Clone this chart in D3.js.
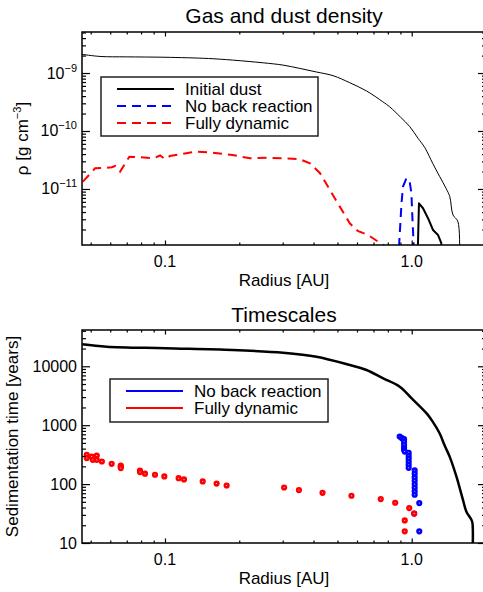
<!DOCTYPE html>
<html>
<head>
<meta charset="utf-8">
<script src="https://cdn.jsdelivr.net/npm/d3@7"></script>
<style>
    body { margin: 0; background: #fff; }
    svg { display: block; font-family: "Liberation Sans", Helvetica, Arial, sans-serif; }
</style>
</head>
<body>
<div id="chart"></div>
<script>
// x axis (shared)
const radiusDomain = [0.0461, 2.0];
const xTicks = [0.1, 1.0];
const xTickLabels = ['0.1', '1.0'];

// top panel: density
const rhoDomain = [1.08e-12, 5.1e-9];
const rhoTicks = [1e-9, 1e-10, 1e-11];
const rhoTickExp = ['\u22129', '\u221210', '\u221211'];

const gasR = [0.0461, 0.0546, 0.07, 0.1, 0.15, 0.188, 0.25, 0.301, 0.352, 0.412, 0.48, 0.561, 0.656, 0.763, 0.815, 0.9, 0.982, 1.06, 1.129, 1.216, 1.297, 1.38, 1.426, 1.47, 1.539, 1.539];
const gasRho = [2.1e-9, 1.93e-9, 1.9e-9, 1.87e-9, 1.78e-9, 1.67e-9, 1.5e-9, 1.37e-9, 1.2e-9, 1.04e-9, 9.0e-10, 6.8e-10, 4.9e-10, 3.2e-10, 2.6e-10, 1.74e-10, 1.19e-10, 7.5e-11, 5.2e-11, 2.77e-11, 1.65e-11, 1.01e-11, 7.4e-12, 3.56e-12, 2.73e-12, 1e-13];

const dustR = [1.045, 1.07, 1.111, 1.164, 1.22, 1.278, 1.318, 1.33];
const dustRho = [1e-13, 5.66e-12, 4.65e-12, 3.13e-12, 1.96e-12, 1.61e-12, 1.16e-12, 1e-13];

const noBackR = [0.888, 0.909, 0.922, 0.952, 0.981, 0.997, 1.006, 1.019];
const noBackRho = [1.0e-12, 5.66e-12, 1.1e-11, 1.53e-11, 1.34e-11, 8.4e-12, 3.3e-12, 1.0e-12];

const fullR = [0.0465, 0.0521, 0.0581, 0.0608, 0.0628, 0.0658, 0.0717, 0.0792, 0.0897, 0.0955, 0.1, 0.1047, 0.115, 0.134, 0.156, 0.188, 0.221, 0.259, 0.301, 0.352, 0.387, 0.425, 0.466, 0.511, 0.561, 0.604, 0.665, 0.766, 0.8];
const fullRho = [1.34e-11, 2.27e-11, 2.33e-11, 2.37e-11, 2.49e-11, 1.99e-11, 3.6e-11, 3.52e-11, 3.38e-11, 3.78e-11, 3.29e-11, 3.7e-11, 3.96e-11, 4.4e-11, 4.24e-11, 3.85e-11, 3.38e-11, 3.46e-11, 3.38e-11, 3.25e-11, 2.77e-11, 1.87e-11, 9.6e-12, 4.96e-12, 2.56e-12, 1.89e-12, 1.61e-12, 1.08e-12, 9e-13];

// bottom panel: timescales
const timeDomain = [10, 41300];
const timeTicks = [10, 100, 1000, 10000];
const timeTickLabels = ['10', '100', '1000', '10000'];

const timeR = [0.0462, 0.0581, 0.1, 0.188, 0.301, 0.411, 0.561, 0.656, 0.763, 0.894, 1.0, 1.147, 1.216, 1.297, 1.36, 1.426, 1.517, 1.613, 1.666, 1.745, 1.762, 1.762];
const timeYears = [23600, 21500, 20200, 18900, 17000, 14550, 10500, 8650, 6270, 4510, 2850, 1600, 1150, 730, 450, 290, 135, 54, 34, 24.8, 22, 5];

const blueR = [0.894, 0.913, 0.931, 0.931, 0.931, 0.931, 0.931, 0.937, 0.972, 0.972, 0.972, 0.972, 0.972, 0.972, 1.028, 1.028, 1.028, 1.028, 1.028, 1.028, 1.028, 1.028, 1.073, 1.023, 1.073];
const blueT = [641, 603, 579, 521, 464, 412, 382, 357, 339, 301, 268, 239, 212, 189, 171, 150, 130, 114, 99.3, 86.5, 75.5, 65.9, 47.6, 31.6, 15.8];

const redR = [0.0482, 0.0482, 0.0505, 0.0510, 0.0529, 0.0529, 0.0555, 0.0608, 0.0662, 0.0662, 0.0662, 0.0792, 0.0792, 0.083, 0.0911, 0.0994, 0.1136, 0.1194, 0.1422, 0.1619, 0.1778, 0.304, 0.349, 0.435, 0.570, 0.749, 0.857, 0.977, 1.023, 0.937, 0.937];
const redT = [314, 276, 294, 258, 305, 258, 242, 221, 207, 197, 187, 170, 160, 150, 144, 135, 126, 120, 111, 102, 94.6, 87.5, 79, 71.2, 63.4, 55.7, 48.2, 39.2, 31.6, 24.2, 15.8];

const W = 483, H = 592;
const L = 82, R = 486;

const svg = d3.select('#chart').append('svg')
    .attr('width', W)
    .attr('height', H);

const zip = (a, b) => a.map((v, i) => [v, b[i]]);

// minor ticks 2..9 per decade inside the domain
const minorTicks = (domain) => {
    const out = [];
    for (let e = Math.floor(Math.log10(domain[0])); e <= Math.ceil(Math.log10(domain[1])); e++) {
        for (let m = 2; m < 10; m++) {
            const v = m * Math.pow(10, e);
            if (v >= domain[0] && v <= domain[1]) out.push(v);
        }
    }
    return out;
};

const drawFrame = (g, x, y, top, bottom, yMajor) => {
    const tickAxis = (axis, transform) => {
        const a = g.append('g')
            .attr('transform', transform)
            .call(axis);
        a.select('.domain').remove();
        a.selectAll('line').attr('stroke', '#000').attr('stroke-width', 1.2);
    };
    const xMinor = minorTicks(x.domain());
    const yMinor = minorTicks(y.domain());
    tickAxis(d3.axisBottom(x).tickValues(xTicks).tickSize(-4.5).tickFormat(''), 'translate(0,' + bottom + ')');
    tickAxis(d3.axisBottom(x).tickValues(xMinor).tickSize(-2.5).tickFormat(''), 'translate(0,' + bottom + ')');
    tickAxis(d3.axisTop(x).tickValues(xTicks).tickSize(-4.5).tickFormat(''), 'translate(0,' + top + ')');
    tickAxis(d3.axisTop(x).tickValues(xMinor).tickSize(-2.5).tickFormat(''), 'translate(0,' + top + ')');
    tickAxis(d3.axisLeft(y).tickValues(yMajor).tickSize(-8).tickFormat(''), 'translate(' + L + ',0)');
    tickAxis(d3.axisLeft(y).tickValues(yMinor).tickSize(-4).tickFormat(''), 'translate(' + L + ',0)');
    tickAxis(d3.axisRight(y).tickValues(yMajor).tickSize(-8).tickFormat(''), 'translate(' + R + ',0)');
    tickAxis(d3.axisRight(y).tickValues(yMinor).tickSize(-4).tickFormat(''), 'translate(' + R + ',0)');

    g.append('rect')
        .attr('x', L).attr('y', top)
        .attr('width', R - L).attr('height', bottom - top)
        .attr('fill', 'none')
        .attr('stroke', '#000')
        .attr('stroke-width', 1.5);

    g.selectAll('.xlab')
        .data(xTicks)
        .enter()
        .append('text')
        .attr('x', d => x(d))
        .attr('y', bottom + 22)
        .attr('text-anchor', 'middle')
        .attr('font-size', 16)
        .text((d, i) => xTickLabels[i]);

    g.append('text')
        .attr('x', (L + R) / 2)
        .attr('y', bottom + 41)
        .attr('text-anchor', 'middle')
        .attr('font-size', 17)
        .text('Radius [AU]');
};

const addClip = (id, top, bottom) => {
    svg.append('clipPath').attr('id', id)
        .append('rect')
        .attr('x', L).attr('y', top)
        .attr('width', R - L).attr('height', bottom - top);
};

// box: x, y, w, h, first row offset, row step, line inset
const legend = (g, box, rows) => {
    g.append('rect')
        .attr('x', box[0]).attr('y', box[1])
        .attr('width', box[2]).attr('height', box[3])
        .attr('fill', '#fff')
        .attr('stroke', '#222')
        .attr('stroke-width', 1.5);
    rows.forEach((r, i) => {
        const cy = box[1] + box[4] + i * box[5];
        g.append('line')
            .attr('x1', box[0] + box[6]).attr('x2', box[0] + box[6] + 57)
            .attr('y1', cy).attr('y2', cy)
            .attr('stroke', r.color)
            .attr('stroke-width', 2)
            .attr('stroke-dasharray', r.dash || null);
        g.append('text')
            .attr('x', box[0] + box[6] + 68)
            .attr('y', cy + 6)
            .attr('font-size', 17)
            .text(r.label);
    });
};

// ---------------- top panel ----------------
(() => {
    const top = 32, bottom = 245;
    const x = d3.scaleLog().domain(radiusDomain).range([L, R]);
    const y = d3.scaleLog().domain(rhoDomain).range([bottom, top]);
    const g = svg.append('g');
    addClip('clip-top', top, bottom);

    g.append('text')
        .attr('x', (L + R) / 2)
        .attr('y', 23)
        .attr('text-anchor', 'middle')
        .attr('font-size', 21)
        .text('Gas and dust density');

    const line = d3.line().x(d => x(d[0])).y(d => y(d[1]));
    const plot = g.append('g').attr('clip-path', 'url(#clip-top)');

    plot.append('path')
        .datum(zip(gasR, gasRho))
        .attr('fill', 'none')
        .attr('stroke', '#000')
        .attr('stroke-width', 1)
        .attr('d', line.curve(d3.curveCatmullRom.alpha(0.5)));
    line.curve(d3.curveLinear);

    plot.append('path')
        .datum(zip(dustR, dustRho))
        .attr('fill', 'none')
        .attr('stroke', '#000')
        .attr('stroke-width', 2)
        .attr('stroke-linejoin', 'round')
        .attr('d', line);

    plot.append('path')
        .datum(zip(noBackR, noBackRho))
        .attr('fill', 'none')
        .attr('stroke', '#0000ff')
        .attr('stroke-width', 2)
        .attr('stroke-dasharray', '9,6')
        .attr('d', line);

    plot.append('path')
        .datum(zip(fullR, fullRho))
        .attr('fill', 'none')
        .attr('stroke', '#ff0000')
        .attr('stroke-width', 2)
        .attr('stroke-dasharray', '9,6')
        .attr('d', line);

    drawFrame(g, x, y, top, bottom, rhoTicks);

    const lab = g.selectAll('.ylab')
        .data(rhoTicks)
        .enter()
        .append('text')
        .attr('x', L - 5)
        .attr('y', d => y(d) + 5.5)
        .attr('text-anchor', 'end')
        .attr('font-size', 16);
    lab.append('tspan').text('10');
    lab.append('tspan')
        .attr('dy', -7)
        .attr('font-size', 11)
        .text((d, i) => rhoTickExp[i]);

    const yt = g.append('text')
        .attr('transform', 'translate(28,' + (top + bottom) / 2 + ') rotate(-90)')
        .attr('text-anchor', 'middle')
        .attr('font-size', 17);
    yt.append('tspan').text('\u03c1 [g cm');
    yt.append('tspan').attr('dy', -7).attr('font-size', 11).text('\u22123');
    yt.append('tspan').attr('dy', 7).text(']');

    legend(g, [101, 77, 217, 59, 12, 17, 16], [
        {label: 'Initial dust', color: '#000'},
        {label: 'No back reaction', color: '#0000ff', dash: '9,6'},
        {label: 'Fully dynamic', color: '#ff0000', dash: '9,6'}
    ]);
})();

// ---------------- bottom panel ----------------
(() => {
    const top = 330, bottom = 543;
    const x = d3.scaleLog().domain(radiusDomain).range([L, R]);
    const y = d3.scaleLog().domain(timeDomain).range([bottom, top]);
    const g = svg.append('g');
    addClip('clip-bot', top, bottom);

    g.append('text')
        .attr('x', (L + R) / 2)
        .attr('y', 322)
        .attr('text-anchor', 'middle')
        .attr('font-size', 21)
        .text('Timescales');

    const plot = g.append('g').attr('clip-path', 'url(#clip-bot)');

    plot.append('path')
        .datum(zip(timeR, timeYears))
        .attr('fill', 'none')
        .attr('stroke', '#000')
        .attr('stroke-width', 2.5)
        .attr('d', d3.line().curve(d3.curveCatmullRom.alpha(0.5)).x(d => x(d[0])).y(d => y(d[1])));

    const dots = (rs, ts, color) => {
        plot.selectAll(null)
            .data(zip(rs, ts))
            .enter()
            .append('circle')
            .attr('cx', d => x(d[0]))
            .attr('cy', d => y(d[1]))
            .attr('r', 1.8)
            .attr('fill', '#fff')
            .attr('stroke', color)
            .attr('stroke-width', 2.6);
    };
    dots(blueR, blueT, '#0000ff');
    dots(redR, redT, '#ff0000');

    drawFrame(g, x, y, top, bottom, timeTicks);

    g.selectAll('.ylab')
        .data(timeTicks)
        .enter()
        .append('text')
        .attr('x', L - 5)
        .attr('y', d => y(d) + 5.5)
        .attr('text-anchor', 'end')
        .attr('font-size', 16)
        .text((d, i) => timeTickLabels[i]);

    g.append('text')
        .attr('transform', 'translate(17.5,' + (top + bottom) / 2 + ') rotate(-90)')
        .attr('text-anchor', 'middle')
        .attr('font-size', 17)
        .text('Sedimentation time [years]');

    legend(g, [110, 379, 218, 43, 12, 17, 16], [
        {label: 'No back reaction', color: '#0000ff'},
        {label: 'Fully dynamic', color: '#ff0000'}
    ]);
})();
</script>
</body>
</html>
